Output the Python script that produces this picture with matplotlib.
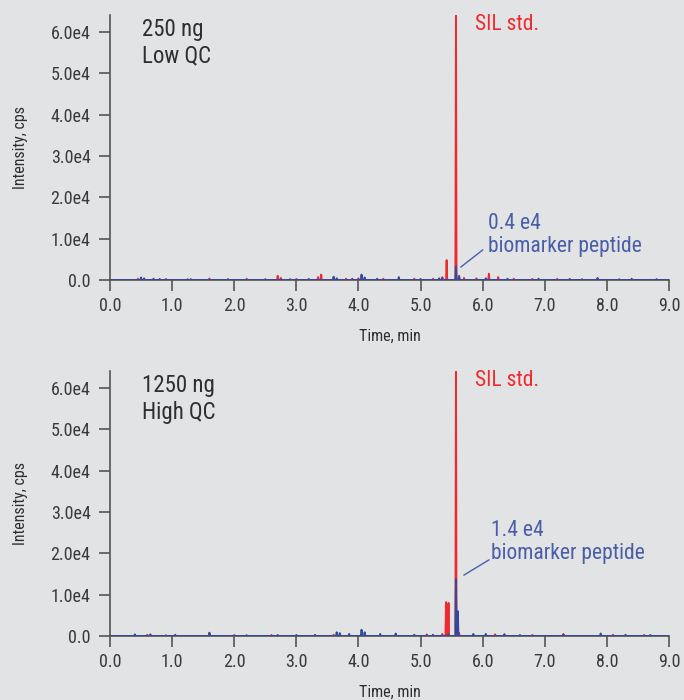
import matplotlib
matplotlib.use("Agg")
import matplotlib.pyplot as plt
from matplotlib import font_manager
import numpy as np

# ---- data: spikes (time min, height cps) ----
low_red_t = [0.45, 0.9, 1.25, 1.6, 2.2, 2.7, 2.75, 3.0, 3.35, 3.4, 3.8, 4.0, 4.4, 4.9, 5.2, 5.35, 5.42, 5.57, 5.62, 5.7, 5.9, 6.1, 6.25, 6.5, 6.8, 7.2, 7.6, 8.2]
low_red_h = [300, 250, 200, 350, 300, 1000, 500, 250, 700, 1300, 300, 400, 300, 300, 300, 700, 4800, 64000, 1000, 500, 400, 1500, 700, 300, 250, 250, 200, 200]
low_blue_t = [0.5, 0.55, 0.7, 0.8, 1.3, 1.9, 2.5, 2.9, 3.2, 3.6, 3.65, 3.9, 4.05, 4.1, 4.3, 4.65, 5.0, 5.3, 5.35, 5.57, 5.62, 6.05, 6.4, 6.9, 7.4, 7.85, 8.4, 8.8]
low_blue_h = [600, 400, 300, 250, 200, 200, 200, 200, 250, 800, 400, 300, 1300, 600, 300, 700, 250, 400, 400, 3300, 900, 400, 300, 300, 250, 500, 300, 200]

high_red_t = [0.6, 0.9, 1.6, 2.0, 2.6, 3.3, 3.6, 4.05, 4.6, 5.1, 5.35, 5.41, 5.45, 5.57, 5.62, 6.2, 6.35, 6.8, 7.3, 8.1, 8.6]
high_red_h = [300, 200, 800, 250, 250, 250, 300, 400, 400, 400, 500, 8200, 8000, 64000, 800, 400, 400, 250, 500, 300, 250]
high_blue_t = [0.4, 0.65, 1.05, 1.6, 2.2, 2.7, 3.0, 3.3, 3.65, 3.7, 3.85, 4.05, 4.1, 4.35, 4.6, 4.9, 5.2, 5.45, 5.57, 5.6, 5.85, 6.05, 6.35, 6.6, 7.3, 7.9, 8.3, 8.7]
high_blue_h = [400, 400, 300, 700, 200, 250, 250, 250, 900, 700, 500, 1500, 900, 500, 600, 300, 300, 400, 13800, 6000, 500, 500, 400, 250, 300, 600, 300, 250]

x_ticks = [0.0, 1.0, 2.0, 3.0, 4.0, 5.0, 6.0, 7.0, 8.0, 9.0]
y_ticks = [0, 10000, 20000, 30000, 40000, 50000, 60000]
y_labels = ["0.0", "1.0e4", "2.0e4", "3.0e4", "4.0e4", "5.0e4", "6.0e4"]

BG = "#e2e3e5"
RED = "#ee2a2e"
BLUE = "#34499c"
BLUE_T = "#4a5ea8"
GRAY = "#555555"
TXT = "#2e2e2e"

names = {f.name for f in font_manager.fontManager.ttflist}
FONT = [f for f in ["Roboto Condensed", "Liberation Sans Narrow", "Roboto", "DejaVu Sans"] if f in names]
plt.rcParams['font.family'] = FONT


def trace(ts, hs, w=0.009):
    order = np.argsort(ts)
    xs, ys = [0.0], [0.0]
    for i in order:
        t, h = ts[i], hs[i]
        xs += [t - w, t, t + w]
        ys += [0.0, h, 0.0]
    xs.append(9.0)
    ys.append(0.0)
    return xs, ys


fig = plt.figure(figsize=(6.84, 7.0), dpi=100, facecolor=BG)

panels = [
    dict(rect=[110/684, 1-280/700, 559/684, 265/700], red=(low_red_t, low_red_h), blue=(low_blue_t, low_blue_h),
         title="250 ng\nLow QC", ann="0.4 e4\nbiomarker peptide",
         line=((5.65, 3150), (6.0, 7260)), ann_txt=(6.08, 5600)),
    dict(rect=[110/684, 1-636/700, 559/684, 265/700], red=(high_red_t, high_red_h), blue=(high_blue_t, high_blue_h),
         title="1250 ng\nHigh QC", ann="1.4 e4\nbiomarker peptide",
         line=((5.70, 14750), (6.10, 18400)), ann_txt=(6.13, 17500)),
]

for p in panels:
    ax = fig.add_axes(p["rect"])
    ax.set_facecolor(BG)
    xr, yr = trace(*p["red"])
    xb, yb = trace(*p["blue"])
    ax.plot(xr, yr, color=RED, lw=1.4, zorder=3)
    ax.plot(xb, yb, color=BLUE, lw=1.4, zorder=4)
    ax.set_xlim(0, 9)
    ax.set_ylim(0, 64100)
    for s in ["top", "right"]:
        ax.spines[s].set_visible(False)
    for s in ["left", "bottom"]:
        ax.spines[s].set_color(GRAY)
        ax.spines[s].set_linewidth(1.2)
    ax.set_xticks(x_ticks)
    ax.set_xticklabels([f"{v:.1f}" for v in x_ticks])
    ax.set_yticks(y_ticks)
    ax.set_yticklabels(y_labels)
    ax.tick_params(direction="out", length=8, width=1.2, color=GRAY, labelsize=13,
                   labelcolor="#3a3a3a")
    ax.tick_params(axis="y", pad=6)
    ax.tick_params(axis="x", pad=4)
    ax.set_xlabel("Time, min", fontsize=11.5, color=TXT, labelpad=10)
    ax.set_ylabel("Intensity, cps", fontsize=11.5, color=TXT, labelpad=16)
    ax.text(0.057, 0.99, p["title"], transform=ax.transAxes, fontsize=16.5, color=TXT,
            va="top", ha="left", linespacing=1.22)
    ax.text(5.88, 61800, "SIL std.", fontsize=15.5, color=RED, va="center", ha="left")
    ax.text(p["ann_txt"][0], p["ann_txt"][1], p["ann"], fontsize=15.5, color=BLUE_T,
            va="bottom", ha="left", linespacing=1.1)
    (x0, y0), (x1, y1) = p["line"]
    ax.plot([x0, x1], [y0, y1], color=BLUE_T, lw=1.0, zorder=5)

fig.savefig("out.png", dpi=100, facecolor=BG)
